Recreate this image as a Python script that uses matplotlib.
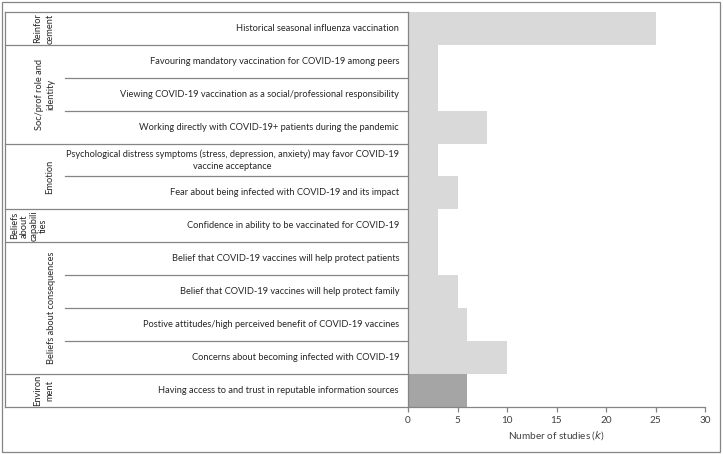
import matplotlib
matplotlib.use("Agg")
import matplotlib.pyplot as plt
from matplotlib.patches import Rectangle

factors = [
    "Historical seasonal influenza vaccination",
    "Favouring mandatory vaccination for COVID-19 among peers",
    "Viewing COVID-19 vaccination as a social/professional responsibility",
    "Working directly with COVID-19+ patients during the pandemic",
    "Psychological distress symptoms (stress, depression, anxiety) may favor COVID-19\nvaccine acceptance",
    "Fear about being infected with COVID-19 and its impact",
    "Confidence in ability to be vaccinated for COVID-19",
    "Belief that COVID-19 vaccines will help protect patients",
    "Belief that COVID-19 vaccines will help protect family",
    "Postive attitudes/high perceived benefit of COVID-19 vaccines",
    "Concerns about becoming infected with COVID-19",
    "Having access to and trust in reputable information sources",
]
studies = [25, 3, 3, 8, 3, 5, 3, 3, 5, 6, 10, 6]

domains = [
    "Reinfor\ncement",
    "Soc/prof role and\nidentity",
    "Emotion",
    "Beliefs\nabout\ncapabili\nties",
    "Beliefs about consequences",
    "Environ\nment",
]
domain_sizes = [1, 3, 2, 1, 4, 1]
highlight_domain = "Environ\nment"

xticks = [0, 5, 10, 15, 20, 25, 30]

# layout, in pixels of the 723x454 canvas
W, H = 723, 454
TBL_L, TBL_R = 5, 408
GRP_R = 65
TOP, BOT = 12, 406.7
AX_R = 705
LABEL_X = [44, 45, 50, 29, 52, 44]   # centres of the rotated domain labels
LABEL_LS = [1.45, 1.35, 1.2, 1.05, 1.2, 1.45]

LIGHT = "#D9D9D9"
DARK = "#A5A5A5"
LINE = "#858585"
TXT = "#262626"

plt.rcParams["font.family"] = ["Lato", "DejaVu Sans"]
FS = 6.7

fig = plt.figure(figsize=(W / 100, H / 100), dpi=100)

def fx(px):
    return px / W

def fy(py):
    return 1 - py / H

# outer frame
fig.patches.append(Rectangle((fx(1.5), fy(452)), fx(720) - fx(1.5), fy(2) - fy(452),
                             transform=fig.transFigure, fill=False,
                             edgecolor=LINE, linewidth=0.9))

ax = fig.add_axes([fx(TBL_R), fy(BOT), fx(AX_R) - fx(TBL_R), fy(TOP) - fy(BOT)])
tbl = fig.add_axes([fx(TBL_L), fy(BOT), fx(TBL_R) - fx(TBL_L), fy(TOP) - fy(BOT)],
                   sharey=ax)

# bars
row_domain = []
for d, n in zip(domains, domain_sizes):
    row_domain += [d] * n
colors = [DARK if d == highlight_domain else LIGHT for d in row_domain]
ypos = list(range(len(factors)))
ax.barh(ypos, studies, height=1.0, color=colors, linewidth=0)

ax.set_ylim(len(factors) - 0.5, -0.5)
ax.set_xlim(xticks[0], xticks[-1])
ax.set_xticks(xticks)
for s in ["top", "right", "left"]:
    ax.spines[s].set_visible(False)
ax.spines["bottom"].set_color(LINE)
ax.spines["bottom"].set_linewidth(0.9)
ax.tick_params(axis="x", direction="out", length=3.5, width=0.9, color=LINE,
               labelsize=7.2, labelcolor="#404040", pad=3)
ax.tick_params(axis="y", left=False, labelleft=False)
ax.set_xlabel("Number of studies ($\\it{k}$)", fontsize=7.2, color="#404040", labelpad=3)

# table grid and texts
tbl.set_xlim(TBL_L, TBL_R)
tbl.axis("off")
lw = 0.9
nrows = len(factors)
tbl.plot([TBL_L, TBL_R], [-0.5, -0.5], color=LINE, lw=lw, clip_on=False)
tbl.plot([TBL_L, TBL_L], [-0.5, nrows - 0.5], color=LINE, lw=lw, clip_on=False)
tbl.plot([TBL_R, TBL_R], [-0.5, nrows - 0.5], color=LINE, lw=lw, clip_on=False)

start = 0
for d, n, lx, ls in zip(domains, domain_sizes, LABEL_X, LABEL_LS):
    end = start + n
    for r in range(start + 1, end):
        tbl.plot([GRP_R, TBL_R], [r - 0.5, r - 0.5], color=LINE, lw=lw, clip_on=False)
    tbl.plot([TBL_L, TBL_R], [end - 0.5, end - 0.5], color=LINE, lw=lw, clip_on=False)
    tbl.text(lx, (start + end - 1) / 2, d, rotation=90, ha="center", va="center",
             multialignment="center", fontsize=FS, color=TXT, linespacing=ls)
    start = end

for i, f in enumerate(factors):
    tbl.text(TBL_R - 9, i, f, ha="right", va="center", multialignment="center",
             fontsize=FS, color=TXT, linespacing=1.45)

fig.savefig("out.png", dpi=100, facecolor="white")
